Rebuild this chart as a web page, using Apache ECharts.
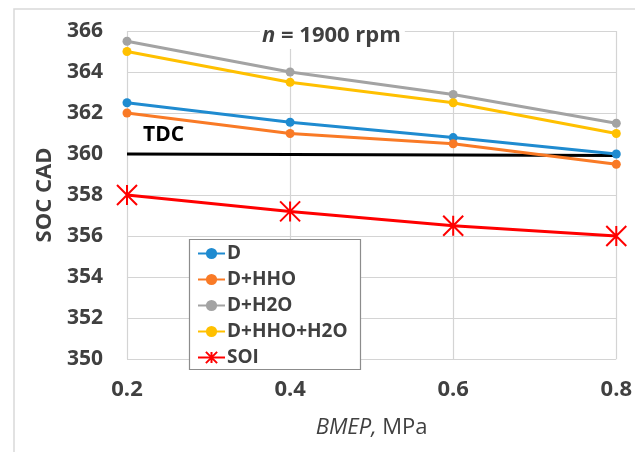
<!DOCTYPE html>
<html>
<head>
<meta charset="utf-8">
<script src="https://cdn.jsdelivr.net/npm/echarts@6/dist/echarts.min.js"></script>
<style>
  html, body { margin: 0; padding: 0; background: #fff; }
  #chart { width: 635px; height: 452px; }
</style>
</head>
<body>
<div id="chart"></div>
<script>
const bmep = ["0.2", "0.4", "0.6", "0.8"];
const socD = [362.5, 361.55, 360.8, 360.0];
const socHHO = [362.0, 361.0, 360.5, 359.5];
const socH2O = [365.5, 364.0, 362.9, 361.5];
const socHHOH2O = [365.0, 363.5, 362.5, 361.0];
const soi = [358.0, 357.2, 356.5, 356.0];
const tdc = [360.0, 359.97, 359.95, 359.93];

const textColor = "#404040";
const font = "Open Sans";
const star = "path://M0,-10L0,10M-10,-10L10,10M-10,10L10,-10";

const chart = echarts.init(document.getElementById("chart"));

function dotSeries(name, data, color) {
  return {
    name: name,
    type: "line",
    data: data,
    symbol: "circle",
    symbolSize: 9,
    color: color,
    lineStyle: { width: 3, color: color },
    itemStyle: { color: color },
  };
}

chart.setOption({
  animation: false,
  textStyle: { fontFamily: font },
  grid: { left: 127, right: 18, top: 31, bottom: 93 },
  graphic: [
    {
      type: "rect",
      shape: { x: 14, y: 9, width: 700, height: 500 },
      style: { fill: "none", stroke: "#d9d9d9", lineWidth: 1.5 },
      z: -1,
    },
    {
      type: "rect",
      shape: { x: 189.5, y: 239.5, width: 171, height: 130 },
      style: { fill: "#fff", stroke: "#8c8c8c", lineWidth: 1.2 },
      z: 10,
    },
    {
      type: "text",
      left: 260,
      top: 23,
      z: 10,
      style: {
        text: "{i|n} = 1900 rpm",
        fill: textColor,
        font: "bold 22px 'Open Sans'",
        backgroundColor: "#fff",
        padding: [2, 4, 2, 2],
        rich: {
          i: { fontStyle: "italic", fontWeight: "bold", fontSize: 22, fill: textColor, fontFamily: font },
        },
      },
    },
    {
      type: "text",
      left: 143,
      top: 125,
      style: { text: "TDC", fill: "#000", font: "bold 21px 'Open Sans'" },
    },
  ],
  legend: {
    left: 197,
    top: 241,
    orient: "vertical",
    itemWidth: 27,
    itemHeight: 14,
    itemGap: 1,
    padding: 0,
    z: 20,
    data: ["D", "D+HHO", "D+H2O", "D+HHO+H2O", "SOI"],
    textStyle: {
      color: textColor,
      fontSize: 19,
      lineHeight: 25,
      fontWeight: "bold",
      fontFamily: font,
      padding: [0, 0, 0, -3],
    },
  },
  xAxis: {
    type: "category",
    data: bmep,
    boundaryGap: false,
    name: "{i|BMEP,} MPa",
    nameLocation: "middle",
    nameGap: 58,
    nameTextStyle: {
      color: textColor,
      fontSize: 22,
      fontFamily: font,
      rich: { i: { fontStyle: "italic", fontSize: 22, color: textColor, fontFamily: font } },
    },
    axisLine: { show: false },
    axisTick: { show: false },
    axisLabel: { color: textColor, fontSize: 22, fontWeight: "bold", margin: 20 },
    splitLine: { show: true, lineStyle: { color: "#d4d4d4", width: 1.2 } },
  },
  yAxis: {
    type: "value",
    min: 350,
    max: 366,
    interval: 2,
    name: "SOC CAD",
    nameLocation: "middle",
    nameGap: 70,
    nameTextStyle: { color: textColor, fontSize: 22, fontWeight: "bold", fontFamily: font },
    axisLine: { show: false },
    axisTick: { show: false },
    axisLabel: { color: textColor, fontSize: 21, fontWeight: "bold", margin: 24 },
    splitLine: { lineStyle: { color: "#d4d4d4", width: 1.2 } },
  },
  series: [
    dotSeries("D", socD, "#1f8bd0"),
    dotSeries("D+HHO", socHHO, "#f97a26"),
    dotSeries("D+H2O", socH2O, "#a3a3a3"),
    dotSeries("D+HHO+H2O", socHHOH2O, "#ffc000"),
    {
      name: "SOI",
      type: "line",
      data: soi,
      symbol: star,
      symbolSize: 20,
      color: "#ff0000",
      lineStyle: { width: 3, color: "#ff0000" },
      itemStyle: { color: "none", borderColor: "#ff0000", borderWidth: 2 },
    },
    {
      name: "TDC",
      type: "line",
      data: tdc,
      symbol: "none",
      color: "#000",
      lineStyle: { width: 3, color: "#000" },
      z: 1,
    },
  ],
});
</script>
</body>
</html>
